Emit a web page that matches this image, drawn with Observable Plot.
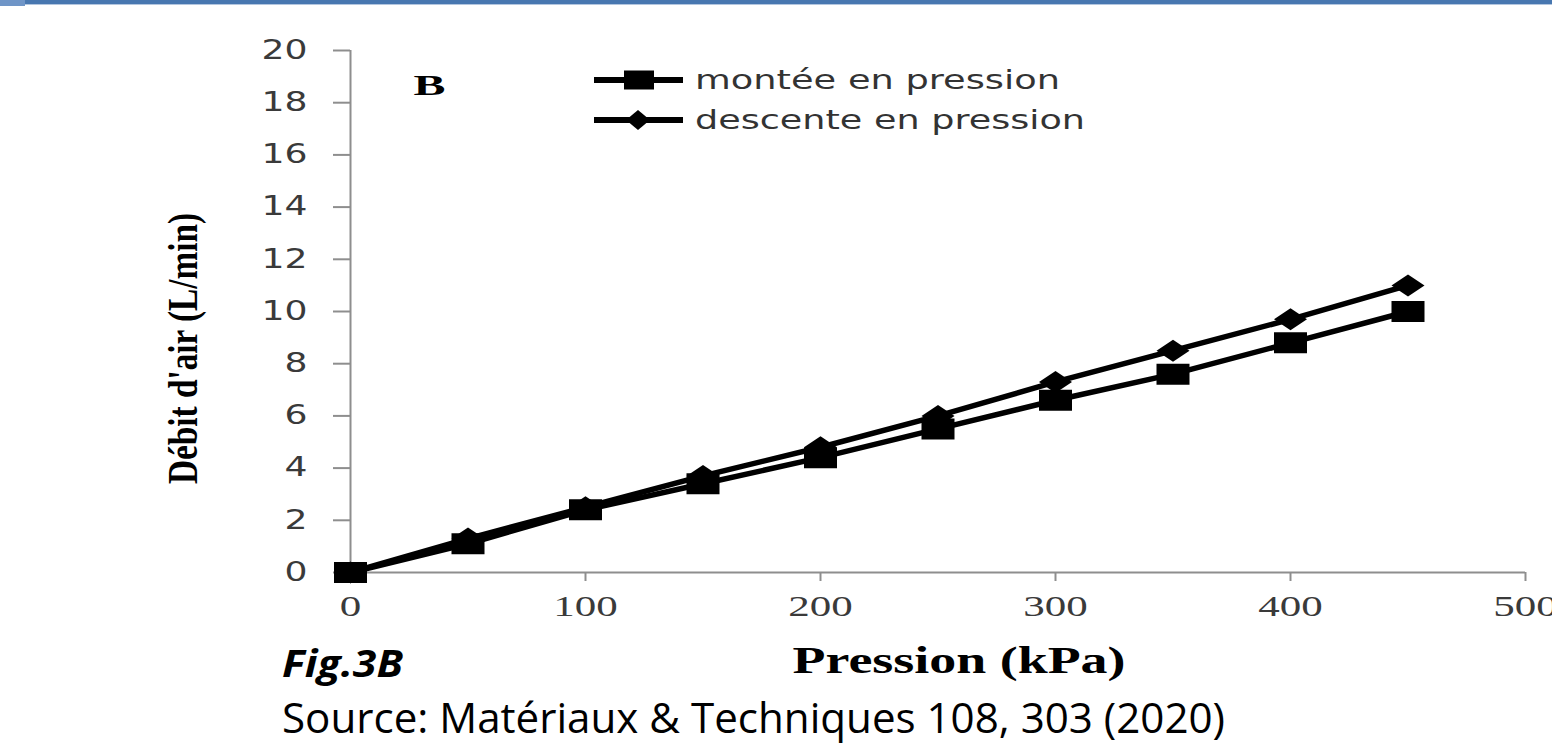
<!DOCTYPE html>
<html>
<head>
<meta charset="utf-8">
<script src="https://cdn.jsdelivr.net/npm/d3@7"></script>
<script src="https://cdn.jsdelivr.net/npm/@observablehq/plot@0.6"></script>
<style>
  html, body { margin: 0; padding: 0; background: #fff; }
  #page { position: relative; width: 1552px; height: 746px; overflow: hidden; background: #fff; }
  #page > svg { position: absolute; left: 0; top: 0; }
  .topbar { position: absolute; left: 0; top: 0; width: 1552px; height: 4px; background: #4877b0; border-bottom: 1px solid #b3c6df; }
  .topblock { position: absolute; left: 0; top: 0; width: 25px; height: 6px; background: #6f95c7; }
</style>
</head>
<body>
<div id="page">
  <div class="topbar"></div>
  <div class="topblock"></div>
</div>
<script>
// ---- data ----
const pressure = [0, 50, 100, 150, 200, 250, 300, 350, 400, 450];
const montee   = [0, 1.1, 2.4, 3.4, 4.4, 5.5, 6.6, 7.6, 8.8, 10.0];
const descente = [0, 1.3, 2.5, 3.7, 4.8, 6.0, 7.3, 8.5, 9.7, 11.0];
const seriesNames = ["montée en pression", "descente en pression"];
const xTicks = [0, 100, 200, 300, 400, 500];
const yTicks = [0, 2, 4, 6, 8, 10, 12, 14, 16, 18, 20];
const panelLabel = "B";
const xTitle = "Pression (kPa)";
const yTitle = "Débit d'air (L/min)";
const figLabel = "Fig.3B";
const sourceText = "Source: Matériaux & Techniques 108, 303 (2020)";

const rows = pressure.flatMap((p, i) => [
  {p, v: montee[i], s: seriesNames[0]},
  {p, v: descente[i], s: seriesNames[1]}
]);

const squareSym = {draw(ctx) { ctx.rect(-16.5, -10.5, 33, 21); }};
const diamondSym = {draw(ctx) { ctx.moveTo(0, -11); ctx.lineTo(16.5, 0); ctx.lineTo(0, 11); ctx.lineTo(-16.5, 0); ctx.closePath(); }};

const chart = Plot.plot({
  width: 1552,
  height: 746,
  marginLeft: 350,
  marginRight: 27,
  marginTop: 50,
  marginBottom: 174,
  style: {background: "transparent", overflow: "hidden"},
  x: {domain: [0, 500]},
  y: {domain: [0, 20]},
  marks: [
    Plot.ruleX([0], {y1: 0, y2: 20, stroke: "#8e8e8e", strokeWidth: 2}),
    Plot.ruleY([0], {x1: 0, x2: 500, stroke: "#8e8e8e", strokeWidth: 2}),
    Plot.axisY({ticks: yTicks, tickSize: 17, tickPadding: 26, stroke: "#8e8e8e", strokeWidth: 2, label: null,
      fontSize: 26, fontFamily: "DejaVu Sans", fill: "#3a3a3a", tickFormat: d => String(d)}),
    Plot.axisX({ticks: xTicks, tickSize: 9, tickPadding: 14, stroke: "#8e8e8e", strokeWidth: 2, label: null,
      fontSize: 29, fontFamily: "Liberation Serif", fill: "#3a3a3a", tickFormat: d => String(d)}),
    Plot.line(rows, {x: "p", y: "v", z: "s", stroke: "black", strokeWidth: 5.5, curve: "linear"}),
    Plot.dot(rows.filter(d => d.s === seriesNames[0]), {x: "p", y: "v", symbol: squareSym, fill: "black", r: 10}),
    Plot.dot(rows.filter(d => d.s === seriesNames[1]), {x: "p", y: "v", symbol: diamondSym, fill: "black", r: 10}),
    Plot.text([panelLabel], {frameAnchor: "top-left", textAnchor: "middle", lineAnchor: "middle", dx: 79, dy: 35,
      fontSize: 30, fontWeight: "bold", fontFamily: "Liberation Serif", fill: "black", className: "panel-b"}),
    Plot.text([yTitle], {frameAnchor: "left", textAnchor: "middle", lineAnchor: "middle", rotate: -90, dx: -167, dy: 37,
      fontSize: 42, fontWeight: "bold", fontFamily: "Liberation Serif", fill: "black", className: "ytitle"}),
    Plot.text([xTitle], {frameAnchor: "bottom", textAnchor: "middle", lineAnchor: "middle", dx: 21, dy: 89,
      fontSize: 37, fontWeight: "bold", fontFamily: "Liberation Serif", fill: "black", className: "xtitle"})
  ]
});

const page = document.getElementById("page");
page.appendChild(chart);

const svg = d3.select(chart);
svg.selectAll('g[aria-label="y-axis tick label"] text')
  .attr("textLength", function() { return 23 * this.textContent.length; })
  .attr("lengthAdjust", "spacingAndGlyphs");
svg.selectAll('g[aria-label="x-axis tick label"] text')
  .attr("textLength", function() { return 21.5 * this.textContent.length; })
  .attr("lengthAdjust", "spacingAndGlyphs");
svg.selectAll(".ytitle text").attr("textLength", 271).attr("lengthAdjust", "spacingAndGlyphs");
svg.selectAll(".xtitle text").attr("textLength", 333).attr("lengthAdjust", "spacingAndGlyphs");
svg.selectAll(".panel-b text").attr("textLength", 32).attr("lengthAdjust", "spacingAndGlyphs");

// ---- legend and captions overlay ----
const ov = d3.select(page).append("svg")
  .attr("width", 1552).attr("height", 746)
  .style("pointer-events", "none");

const legendRows = [
  {name: seriesNames[0], y: 80, len: 365},
  {name: seriesNames[1], y: 120, len: 390}
];
const lg = ov.append("g");
legendRows.forEach((r, i) => {
  const g = lg.append("g");
  g.append("line").attr("x1", 594).attr("x2", 683).attr("y1", r.y).attr("y2", r.y)
    .attr("stroke", "black").attr("stroke-width", 6);
  if (i === 0) {
    g.append("rect").attr("x", 624).attr("y", r.y - 9.5).attr("width", 30).attr("height", 19).attr("fill", "black");
  } else {
    g.append("path").attr("d", `M638,${r.y - 10}L650,${r.y}L638,${r.y + 10}L626,${r.y}Z`).attr("fill", "black");
  }
  g.append("text").attr("x", 695).attr("y", r.y).attr("dy", "0.35em")
    .attr("font-family", "DejaVu Sans").attr("font-size", 26).attr("fill", "#333")
    .attr("textLength", r.len).attr("lengthAdjust", "spacingAndGlyphs")
    .text(r.name);
});

ov.append("text").attr("x", 282).attr("y", 677)
  .attr("font-family", "Open Sans").attr("font-weight", "bold").attr("font-style", "italic")
  .attr("font-size", 38).attr("fill", "black")
  .attr("textLength", 121).attr("lengthAdjust", "spacingAndGlyphs")
  .text(figLabel);
ov.append("text").attr("x", 282).attr("y", 733)
  .attr("font-family", "Open Sans").attr("font-size", 42).attr("fill", "black")
  .attr("textLength", 943).attr("lengthAdjust", "spacingAndGlyphs")
  .text(sourceText);
</script>
</body>
</html>
